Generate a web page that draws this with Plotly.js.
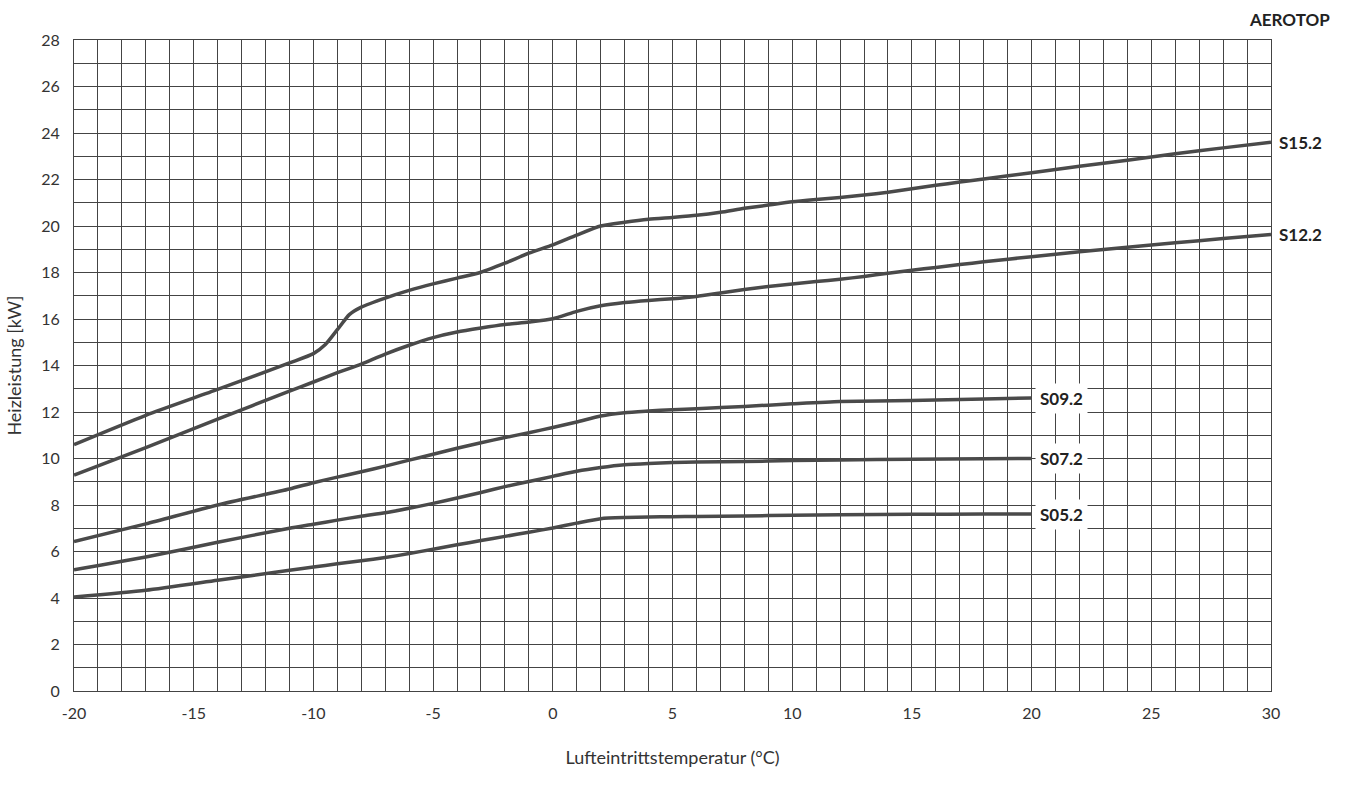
<!DOCTYPE html>
<html>
<head>
<meta charset="utf-8">
<script src="https://cdn.plot.ly/plotly-3.0.1.min.js"></script>
<style>html,body{margin:0;padding:0;background:#fff;}#chart{width:1349px;height:798px;}</style>
</head>
<body>
<div id="chart"></div>
<script>
// Series names
const seriesNames = ['S15.2', 'S12.2', 'S09.2', 'S07.2', 'S05.2'];

// Air inlet temperature (°C) sampling for the large units
const xS15 = [-20,-17,-14,-11,-10,-9.5,-9,-8.5,-8,-7,-6,-5,-4,-3,-2,-1,0,1,2,3,4,5,6,7,8,9,10,11,12,13,14,15,16,17,18,20,22,24,26,28,30];
const yS15 = [10.6,11.86,12.97,14.11,14.51,14.9,15.54,16.19,16.51,16.9,17.23,17.51,17.76,18.01,18.4,18.83,19.19,19.61,20.0,20.16,20.29,20.37,20.46,20.59,20.76,20.9,21.04,21.14,21.23,21.33,21.45,21.6,21.75,21.89,22.02,22.29,22.57,22.83,23.11,23.36,23.6];

const xS12 = [-20,-17,-14,-11,-10,-9,-8,-7,-6,-5,-4,-3,-2,-1,0,1,2,3,4,5,6,7,8,9,10,11,12,13,14,15,16,17,18,20,22,24,26,28,30];
const yS12 = [9.29,10.47,11.69,12.9,13.29,13.69,14.06,14.49,14.87,15.2,15.44,15.61,15.76,15.87,16.01,16.33,16.57,16.71,16.8,16.87,16.97,17.12,17.27,17.4,17.51,17.61,17.71,17.83,17.97,18.1,18.22,18.34,18.46,18.68,18.89,19.09,19.28,19.46,19.64];

// Small units (up to 20 °C)
const xSmall = [-20,-17,-14,-11,-10,-9,-8,-7,-6,-5,-4,-3,-2,-1,0,1,2,3,4,5,6,8,10,12,15,18,20];
const yS09 = [6.43,7.19,8.0,8.69,8.96,9.2,9.43,9.67,9.93,10.18,10.44,10.68,10.9,11.11,11.33,11.57,11.83,11.97,12.04,12.1,12.14,12.24,12.35,12.45,12.5,12.56,12.6];
const yS07 = [5.21,5.76,6.4,7.0,7.17,7.35,7.52,7.67,7.86,8.07,8.3,8.54,8.79,9.01,9.23,9.45,9.61,9.73,9.79,9.83,9.85,9.87,9.91,9.94,9.97,9.99,10.0];
const yS05 = [4.04,4.33,4.76,5.19,5.33,5.47,5.6,5.74,5.91,6.1,6.29,6.47,6.65,6.83,7.01,7.22,7.41,7.46,7.48,7.5,7.51,7.53,7.56,7.58,7.6,7.61,7.61];

const xTickVals = [-20,-15,-10,-5,0,5,10,15,20,25,30];
const xTickText = ['-20','-15','-10','-5','0','5','10','15','20','25','30'];
const yTickVals = [0,2,4,6,8,10,12,14,16,18,20,22,24,26,28];
const yTickText = ['0','2','4','6','8','10','12','14','16','18','20','22','24','26','28'];

const lineColor = '#4a4a4a';
const gridColor = '#444444';
const font = 'Lato, "Noto Sans", sans-serif';

const xs = [xS15, xS12, xSmall, xSmall, xSmall];
const ys = [yS15, yS12, yS09, yS07, yS05];

const traces = seriesNames.map((n, i) => ({
  type: 'scatter', mode: 'lines', name: n,
  x: xs[i], y: ys[i],
  line: {color: lineColor, width: 3.5, shape: 'spline', smoothing: 0.6},
  hoverinfo: 'x+y+name'
}));

const annotations = seriesNames.map((n, i) => {
  const xi = xs[i], yi = ys[i];
  const inside = xi[xi.length - 1] < 30;
  return {
    x: xi[xi.length - 1], y: yi[yi.length - 1], xref: 'x', yref: 'y',
    text: '<b>' + n + '</b>', showarrow: false,
    xanchor: 'left', yanchor: 'middle',
    xshift: inside ? 3 : 6,
    bgcolor: inside ? '#ffffff' : 'rgba(0,0,0,0)',
    borderpad: inside ? 4 : 1,
    font: {family: font, size: 17, color: '#222'}
  };
});
annotations.push({
  xref: 'paper', yref: 'paper', x: 1.051, y: 1.032,
  xanchor: 'right', yanchor: 'middle', showarrow: false,
  text: '<b>AEROTOP</b>', font: {family: font, size: 17, color: '#222'}
});

const layout = {
  width: 1349, height: 798,
  margin: {l: 74, r: 78, t: 40, b: 107},
  paper_bgcolor: '#ffffff', plot_bgcolor: '#ffffff',
  showlegend: false,
  font: {family: font, color: '#333'},
  xaxis: {
    range: [-20, 30], tickvals: xTickVals, ticktext: xTickText, ticks: '',
    ticklabelstandoff: 8,
    showgrid: true, gridcolor: gridColor, gridwidth: 1,
    minor: {dtick: 1, showgrid: true, gridcolor: gridColor, gridwidth: 1},
    zeroline: false, showline: true, linecolor: gridColor, linewidth: 1, mirror: true,
    tickfont: {family: font, size: 16, color: '#333'},
    title: {text: 'Lufteintrittstemperatur (°C)', font: {family: font, size: 18, color: '#333'}, standoff: 30}
  },
  yaxis: {
    range: [0, 28], tickvals: yTickVals, ticktext: yTickText, ticks: '',
    ticklabelstandoff: 10,
    showgrid: true, gridcolor: gridColor, gridwidth: 1,
    minor: {dtick: 1, showgrid: true, gridcolor: gridColor, gridwidth: 1},
    zeroline: false, showline: true, linecolor: gridColor, linewidth: 1, mirror: true,
    tickfont: {family: font, size: 16, color: '#333'},
    title: {text: 'Heizleistung [kW]', font: {family: font, size: 18, color: '#333'}, standoff: 14}
  },
  annotations: annotations
};

Plotly.newPlot('chart', traces, layout, {displayModeBar: false, staticPlot: true});
</script>
</body>
</html>
